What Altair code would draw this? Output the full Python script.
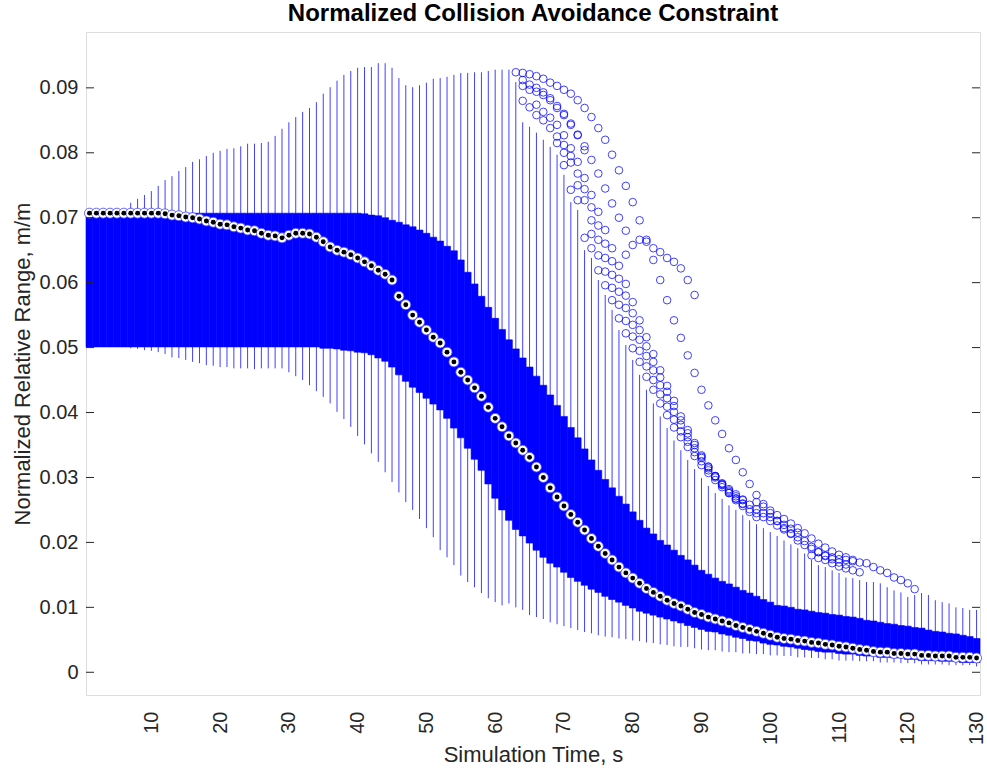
import altair as alt
import pandas as pd

time_s = list(range(1, 131))

q3 = [0.0707, 0.0707, 0.0707, 0.0707, 0.0707, 0.0707, 0.0707, 0.0707, 0.0707, 0.0707,
      0.0707, 0.0707, 0.0707, 0.0707, 0.0707, 0.0707, 0.0707, 0.0707, 0.0707, 0.0707,
      0.0707, 0.0707, 0.0707, 0.0707, 0.0707, 0.0707, 0.0707, 0.0707, 0.0707, 0.0707,
      0.0707, 0.0707, 0.0707, 0.0707, 0.0707, 0.0707, 0.0707, 0.0707, 0.0707, 0.0707,
      0.0706, 0.0704, 0.0703, 0.0700, 0.0696, 0.0693, 0.0689, 0.0686, 0.0681, 0.0676,
      0.0670, 0.0664, 0.0656, 0.0649, 0.0635, 0.0616, 0.0598, 0.0579, 0.0562, 0.0545,
      0.0528, 0.0512, 0.0498, 0.0484, 0.0470, 0.0456, 0.0442, 0.0427, 0.0411, 0.0394,
      0.0377, 0.0361, 0.0344, 0.0327, 0.0311, 0.0297, 0.0284, 0.0271, 0.0259, 0.0247,
      0.0234, 0.0222, 0.0213, 0.0203, 0.0196, 0.0188, 0.0180, 0.0173, 0.0165, 0.0157,
      0.0151, 0.0145, 0.0140, 0.0136, 0.0131, 0.0126, 0.0122, 0.0117, 0.0112, 0.0108,
      0.0103, 0.0102, 0.0100, 0.0097, 0.0096, 0.0094, 0.0092, 0.0091, 0.0089, 0.0088,
      0.0086, 0.0085, 0.0083, 0.0080, 0.0079, 0.0077, 0.0075, 0.0074, 0.0072, 0.0071,
      0.0069, 0.0068, 0.0065, 0.0063, 0.0062, 0.0060, 0.0059, 0.0057, 0.0055, 0.0052]

median = [0.0707, 0.0707, 0.0707, 0.0707, 0.0707, 0.0707, 0.0707, 0.0707, 0.0707, 0.0707,
          0.0707, 0.0706, 0.0704, 0.0703, 0.0701, 0.0700, 0.0698, 0.0695, 0.0693, 0.0690,
          0.0689, 0.0686, 0.0684, 0.0681, 0.0680, 0.0676, 0.0673, 0.0672, 0.0669, 0.0673,
          0.0676, 0.0676, 0.0675, 0.0670, 0.0663, 0.0655, 0.0650, 0.0647, 0.0643, 0.0638,
          0.0632, 0.0626, 0.0619, 0.0613, 0.0604, 0.0579, 0.0566, 0.0550, 0.0539, 0.0527,
          0.0516, 0.0507, 0.0493, 0.0478, 0.0462, 0.0450, 0.0438, 0.0425, 0.0408, 0.0391,
          0.0378, 0.0364, 0.0353, 0.0342, 0.0331, 0.0316, 0.0300, 0.0284, 0.0270, 0.0256,
          0.0243, 0.0231, 0.0219, 0.0206, 0.0194, 0.0183, 0.0173, 0.0162, 0.0153, 0.0145,
          0.0137, 0.0129, 0.0123, 0.0117, 0.0111, 0.0106, 0.0102, 0.0097, 0.0092, 0.0089,
          0.0085, 0.0082, 0.0079, 0.0076, 0.0072, 0.0069, 0.0066, 0.0063, 0.0060, 0.0057,
          0.0054, 0.0052, 0.0051, 0.0049, 0.0048, 0.0046, 0.0045, 0.0043, 0.0042, 0.0040,
          0.0039, 0.0037, 0.0035, 0.0034, 0.0032, 0.0031, 0.0031, 0.0029, 0.0029, 0.0028,
          0.0028, 0.0026, 0.0026, 0.0025, 0.0025, 0.0025, 0.0023, 0.0023, 0.0023, 0.0022]

q1 = [0.0501, 0.0501, 0.0501, 0.0501, 0.0501, 0.0501, 0.0501, 0.0501, 0.0501, 0.0501,
      0.0501, 0.0501, 0.0501, 0.0501, 0.0501, 0.0501, 0.0501, 0.0501, 0.0501, 0.0501,
      0.0501, 0.0501, 0.0501, 0.0501, 0.0501, 0.0501, 0.0501, 0.0501, 0.0501, 0.0501,
      0.0501, 0.0501, 0.0501, 0.0501, 0.0499, 0.0499, 0.0498, 0.0496, 0.0495, 0.0493,
      0.0492, 0.0489, 0.0484, 0.0479, 0.0470, 0.0458, 0.0448, 0.0439, 0.0431, 0.0422,
      0.0413, 0.0404, 0.0391, 0.0376, 0.0361, 0.0345, 0.0328, 0.0311, 0.0290, 0.0268,
      0.0250, 0.0234, 0.0220, 0.0210, 0.0199, 0.0188, 0.0177, 0.0168, 0.0162, 0.0154,
      0.0146, 0.0140, 0.0134, 0.0128, 0.0123, 0.0117, 0.0112, 0.0108, 0.0103, 0.0099,
      0.0094, 0.0091, 0.0088, 0.0085, 0.0082, 0.0079, 0.0076, 0.0072, 0.0069, 0.0066,
      0.0063, 0.0062, 0.0059, 0.0057, 0.0054, 0.0052, 0.0049, 0.0048, 0.0045, 0.0043,
      0.0042, 0.0040, 0.0039, 0.0037, 0.0035, 0.0034, 0.0032, 0.0031, 0.0031, 0.0029,
      0.0028, 0.0028, 0.0026, 0.0025, 0.0025, 0.0023, 0.0023, 0.0022, 0.0022, 0.0020,
      0.0020, 0.0018, 0.0018, 0.0018, 0.0017, 0.0017, 0.0017, 0.0015, 0.0015, 0.0015]

whisker_hi = [0.0707, 0.0707, 0.0707, 0.0707, 0.0707, 0.0707, 0.0723, 0.0729, 0.0735, 0.0741,
              0.0749, 0.0758, 0.0764, 0.0772, 0.0778, 0.0786, 0.0790, 0.0795, 0.0800, 0.0803,
              0.0806, 0.0807, 0.0810, 0.0814, 0.0814, 0.0815, 0.0817, 0.0826, 0.0837, 0.0847,
              0.0855, 0.0863, 0.0869, 0.0878, 0.0891, 0.0901, 0.0911, 0.0920, 0.0926, 0.0931,
              0.0932, 0.0932, 0.0938, 0.0938, 0.0931, 0.0915, 0.0904, 0.0901, 0.0904, 0.0908,
              0.0914, 0.0915, 0.0917, 0.0920, 0.0923, 0.0923, 0.0924, 0.0924, 0.0926, 0.0928,
              0.0928, 0.0928, 0.0909, 0.0847, 0.0840, 0.0831, 0.0820, 0.0809, 0.0797, 0.0766,
              0.0724, 0.0712, 0.0650, 0.0638, 0.0604, 0.0581, 0.0558, 0.0527, 0.0504, 0.0481,
              0.0458, 0.0435, 0.0414, 0.0394, 0.0376, 0.0357, 0.0342, 0.0327, 0.0313, 0.0299,
              0.0287, 0.0276, 0.0267, 0.0257, 0.0250, 0.0242, 0.0234, 0.0228, 0.0222, 0.0216,
              0.0210, 0.0203, 0.0197, 0.0191, 0.0183, 0.0173, 0.0165, 0.0162, 0.0157, 0.0153,
              0.0146, 0.0145, 0.0142, 0.0139, 0.0139, 0.0137, 0.0131, 0.0126, 0.0123, 0.0116,
              0.0119, 0.0122, 0.0119, 0.0111, 0.0108, 0.0106, 0.0100, 0.0099, 0.0096, 0.0096]

whisker_lo = [0.0501, 0.0501, 0.0501, 0.0501, 0.0501, 0.0501, 0.0499, 0.0498, 0.0496, 0.0495,
              0.0493, 0.0490, 0.0485, 0.0484, 0.0481, 0.0478, 0.0476, 0.0473, 0.0472, 0.0470,
              0.0470, 0.0468, 0.0468, 0.0468, 0.0467, 0.0468, 0.0468, 0.0468, 0.0468, 0.0462,
              0.0456, 0.0450, 0.0442, 0.0433, 0.0424, 0.0414, 0.0401, 0.0390, 0.0378, 0.0364,
              0.0351, 0.0337, 0.0324, 0.0308, 0.0293, 0.0277, 0.0262, 0.0250, 0.0236, 0.0222,
              0.0208, 0.0188, 0.0177, 0.0165, 0.0149, 0.0139, 0.0131, 0.0122, 0.0114, 0.0108,
              0.0103, 0.0106, 0.0100, 0.0096, 0.0088, 0.0085, 0.0082, 0.0077, 0.0074, 0.0071,
              0.0068, 0.0065, 0.0062, 0.0060, 0.0057, 0.0055, 0.0054, 0.0052, 0.0051, 0.0049,
              0.0048, 0.0046, 0.0045, 0.0043, 0.0042, 0.0040, 0.0039, 0.0039, 0.0037, 0.0035,
              0.0034, 0.0034, 0.0032, 0.0031, 0.0031, 0.0029, 0.0029, 0.0028, 0.0028, 0.0026,
              0.0026, 0.0025, 0.0025, 0.0023, 0.0023, 0.0022, 0.0022, 0.0020, 0.0020, 0.0018,
              0.0018, 0.0018, 0.0017, 0.0017, 0.0017, 0.0015, 0.0015, 0.0015, 0.0014, 0.0014,
              0.0014, 0.0012, 0.0012, 0.0012, 0.0012, 0.0011, 0.0011, 0.0011, 0.0011, 0.0009]

# Outliers, read as several traces (time step, value)
outA_t = list(range(63, 122))
outA_v = [0.0924, 0.0923, 0.0921, 0.0918, 0.0914, 0.0908, 0.0903, 0.0897, 0.0891, 0.0881,
          0.0869, 0.0855, 0.0838, 0.0820, 0.0797, 0.0773, 0.0749, 0.0724, 0.0696, 0.0666,
          0.0635, 0.0604, 0.0573, 0.0542, 0.0515, 0.0488, 0.0461, 0.0435, 0.0411, 0.0388,
          0.0367, 0.0345, 0.0327, 0.0308, 0.0290, 0.0273, 0.0259, 0.0245, 0.0233, 0.0222,
          0.0213, 0.0203, 0.0196, 0.0190, 0.0185, 0.0180, 0.0177, 0.0174, 0.0173, 0.0171,
          0.0169, 0.0168, 0.0162, 0.0157, 0.0153, 0.0146, 0.0142, 0.0137, 0.0128]
outA2_t = list(range(64, 74))
outA2_v = [0.0903, 0.0897, 0.0894, 0.0889, 0.0881, 0.0869, 0.0858, 0.0843, 0.0827, 0.0804]
outB_t = list(range(66, 99))
outB_v = [0.0874, 0.0863, 0.0854, 0.0843, 0.0827, 0.0807, 0.0786, 0.0761, 0.0735, 0.0709,
          0.0681, 0.0653, 0.0626, 0.0598, 0.0570, 0.0542, 0.0516, 0.0490, 0.0465, 0.0441,
          0.0418, 0.0394, 0.0373, 0.0353, 0.0334, 0.0317, 0.0302, 0.0288, 0.0276, 0.0265,
          0.0256, 0.0247, 0.0239]
outC_t = list(range(70, 112))
outC_v = [0.0781, 0.0743, 0.0727, 0.0669, 0.0653, 0.0619, 0.0596, 0.0573, 0.0545, 0.0522,
          0.0499, 0.0478, 0.0455, 0.0435, 0.0414, 0.0396, 0.0377, 0.0362, 0.0347, 0.0333,
          0.0319, 0.0307, 0.0296, 0.0285, 0.0276, 0.0267, 0.0259, 0.0251, 0.0245, 0.0239,
          0.0233, 0.0226, 0.0220, 0.0214, 0.0208, 0.0202, 0.0193, 0.0185, 0.0179, 0.0174,
          0.0169, 0.0166]
outD_t = list(range(72, 97))
outD_v = [0.0750, 0.0727, 0.0696, 0.0666, 0.0638, 0.0612, 0.0586, 0.0561, 0.0535, 0.0512,
          0.0487, 0.0465, 0.0442, 0.0422, 0.0401, 0.0381, 0.0362, 0.0345, 0.0330, 0.0314,
          0.0302, 0.0290, 0.0280, 0.0271, 0.0265]
outE_t = list(range(79, 90))
outE_v = [0.0643, 0.0658, 0.0666, 0.0663, 0.0653, 0.0647, 0.0638, 0.0632, 0.0622, 0.0604, 0.0581]
outF_t = list(range(106, 114))
outF_v = [0.0180, 0.0176, 0.0173, 0.0168, 0.0163, 0.0160, 0.0157, 0.0154]
outG_t = list(range(64, 80))
outG_v = [0.0912, 0.0905, 0.0900, 0.0893, 0.0884, 0.0872, 0.0860, 0.0845, 0.0828, 0.0810,
          0.0789, 0.0768, 0.0745, 0.0722, 0.0700, 0.0680]
outH_t = list(range(69, 97))
outH_v = [0.0815, 0.0800, 0.0785, 0.0768, 0.0744, 0.0716, 0.0688, 0.0660, 0.0633, 0.0606,
          0.0580, 0.0553, 0.0527, 0.0502, 0.0478, 0.0454, 0.0432, 0.0410, 0.0388, 0.0368,
          0.0350, 0.0332, 0.0316, 0.0302, 0.0289, 0.0278, 0.0268, 0.0260]
outI_t = list(range(74, 105))
outI_v = [0.0675, 0.0642, 0.0617, 0.0592, 0.0566, 0.0541, 0.0517, 0.0495, 0.0471, 0.0450,
          0.0428, 0.0409, 0.0389, 0.0371, 0.0355, 0.0339, 0.0325, 0.0311, 0.0300, 0.0291,
          0.0282, 0.0274, 0.0266, 0.0258, 0.0251, 0.0245, 0.0239, 0.0233, 0.0227, 0.0221,
          0.0215]
outJ_t = list(range(98, 113))
outJ_v = [0.0262, 0.0255, 0.0249, 0.0242, 0.0236, 0.0229, 0.0222, 0.0214, 0.0206, 0.0198,
          0.0192, 0.0186, 0.0181, 0.0177, 0.0173]
outK_t = list(range(64, 72))
outK_v = [0.0880, 0.0870, 0.0858, 0.0850, 0.0838, 0.0825, 0.0812, 0.0795]

y_ticks = [0.0, 0.01, 0.02, 0.03, 0.04, 0.05, 0.06, 0.07, 0.08, 0.09]
x_ticks = [10, 20, 30, 40, 50, 60, 70, 80, 90, 100, 110, 120, 130]

box = pd.DataFrame({"t": time_s, "wlo": whisker_lo, "q1": q1, "med": median,
                    "q3": q3, "whi": whisker_hi})
out = pd.DataFrame({
    "t": outA_t + outA2_t + outB_t + outC_t + outD_t + outE_t + outF_t
         + outG_t + outH_t + outI_t + outJ_t + outK_t,
    "v": outA_v + outA2_v + outB_v + outC_v + outD_v + outE_v + outF_v
         + outG_v + outH_v + outI_v + outJ_v + outK_v,
})
ticks = pd.DataFrame({"v": y_ticks})

FONT = "Liberation Sans"
INK = "#262626"
BLUE = "#0000ff"
W, H = 894, 663
XT = "Simulation Time, s"
YT = "Normalized Relative Range, m/m"

xs = alt.Scale(domain=[0.5, 130.5], nice=False, zero=False)
ys = alt.Scale(domain=[-0.0035, 0.0986], nice=False, zero=False)

x_axis = alt.Axis(values=x_ticks, labelAngle=270, labelAlign="right", labelBaseline="middle",
                  ticks=False, domain=False, grid=False, labelPadding=16, labelFlush=False,
                  labelOverlap=False, labelFont=FONT, labelFontSize=20, labelColor=INK,
                  titleFont=FONT, titleFontSize=22,
                  titleFontWeight="normal", titleColor=INK, titleX=W / 2, titleY=66,
                  titleBaseline="alphabetic", titleAlign="center")
y_axis = alt.Axis(values=y_ticks, ticks=False, domain=False, grid=False, labelPadding=8,
                  labelExpr="datum.value == 0 ? '0' : format(datum.value, '.2f')",
                  labelFont=FONT, labelFontSize=20, labelColor=INK,
                  titleFont=FONT, titleFontSize=22,
                  titleFontWeight="normal", titleColor=INK, titleAngle=270,
                  titleX=-64, titleY=H / 2, titleAlign="center", titleBaseline="middle")


def X(field):
    return alt.X(field, scale=xs, axis=x_axis, title=XT)


def Y(field):
    return alt.Y(field, scale=ys, axis=y_axis, title=YT)


whiskers = alt.Chart(box).mark_rule(color=BLUE, strokeWidth=1, opacity=0.75).encode(
    x=X("t:Q"), y=Y("wlo:Q"), y2="whi:Q",
)

boxes = alt.Chart(box).transform_calculate(
    xa="datum.t - 0.5", xb="datum.t + 0.5"
).mark_rect(color=BLUE, stroke=BLUE, strokeWidth=0.6).encode(
    x=X("xa:Q"), x2="xb:Q", y=Y("q1:Q"), y2="q3:Q",
)

outliers = alt.Chart(out).mark_point(shape="circle", filled=False, color=BLUE,
                                     strokeWidth=1, size=58, opacity=0.75).encode(
    x=X("t:Q"), y=Y("v:Q"),
)

med_ring = alt.Chart(box).mark_point(shape="circle", filled=True, fill="white",
                                     stroke="#4444ff", strokeWidth=0.8, size=100,
                                     opacity=1).encode(
    x=X("t:Q"), y=Y("med:Q"),
)
med_dot = alt.Chart(box).mark_point(shape="circle", filled=True, color="black",
                                    size=24, opacity=1).encode(
    x=X("t:Q"), y=Y("med:Q"),
)

tick_left = alt.Chart(ticks).mark_rule(color=INK, strokeWidth=1).encode(
    y=Y("v:Q"), x=alt.value(0), x2=alt.value(8))
tick_right = alt.Chart(ticks).mark_rule(color=INK, strokeWidth=1).encode(
    y=Y("v:Q"), x=alt.value(W - 8), x2=alt.value(W))

chart = alt.layer(
    whiskers, boxes, outliers, med_ring, med_dot, tick_left, tick_right
).properties(
    width=W, height=H,
    title=alt.TitleParams(text="Normalized Collision Avoidance Constraint", font=FONT,
                          fontSize=24, fontWeight="bold", color="black",
                          anchor="middle", offset=6),
    autosize=alt.AutoSizeParams(type="none"),
    padding={"left": 86, "top": 32, "right": 7, "bottom": 73},
).configure_view(stroke=INK, strokeWidth=1).configure(background="white")

chart.save("out.html", embed_options={"renderer": "svg", "actions": False})
